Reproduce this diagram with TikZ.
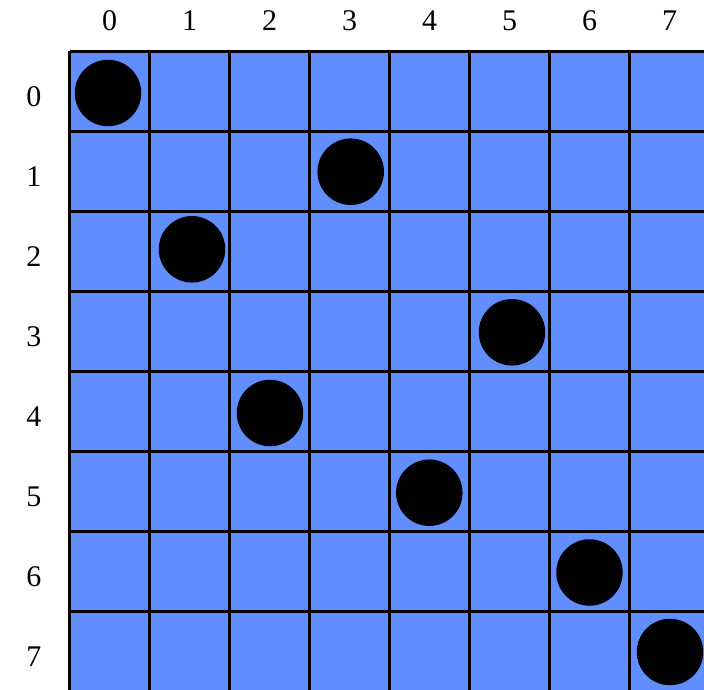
\documentclass[tikz,border=0pt]{standalone}
\usepackage{fontspec}
\setmainfont{Liberation Serif}
\definecolor{cellblue}{RGB}{97,142,255}
\begin{document}
\begin{tikzpicture}[x=1pt,y=-1pt,
  gridline/.style={line width=2.6pt,black},
  queen/.style={circle,fill=black,draw=none,minimum size=66.5pt,inner sep=0pt},
  lbl/.style={font=\fontsize{30}{30}\selectfont,inner sep=0pt}]
\useasboundingbox (0,0) rectangle (704,690);
\clip (0,0) rectangle (704,690);
\fill[cellblue] (69.5,51.5) rectangle (709.5,691.5);
\foreach \i in {0,...,8}{
  \draw[gridline] (69.5+80*\i,51.5) -- (69.5+80*\i,692);
  \draw[gridline] (69.5,51.5+80*\i) -- (710,51.5+80*\i);
}
\foreach \i in {0,...,7}{
  \node[lbl] (c\i) at (109.5+80*\i,21) {\i};
  \node[lbl] (r\i) at (34,97+80*\i) {\i};
}
\foreach \n/\x/\y in {0/108/93,1/350.7/171.7,2/192/249.3,3/512/332.3,4/270/413,5/429.3/492.7,6/589.5/572.5,7/670/652}{
  \node[queen] (q\n) at (\x,\y) {};
}
\end{tikzpicture}
\end{document}
